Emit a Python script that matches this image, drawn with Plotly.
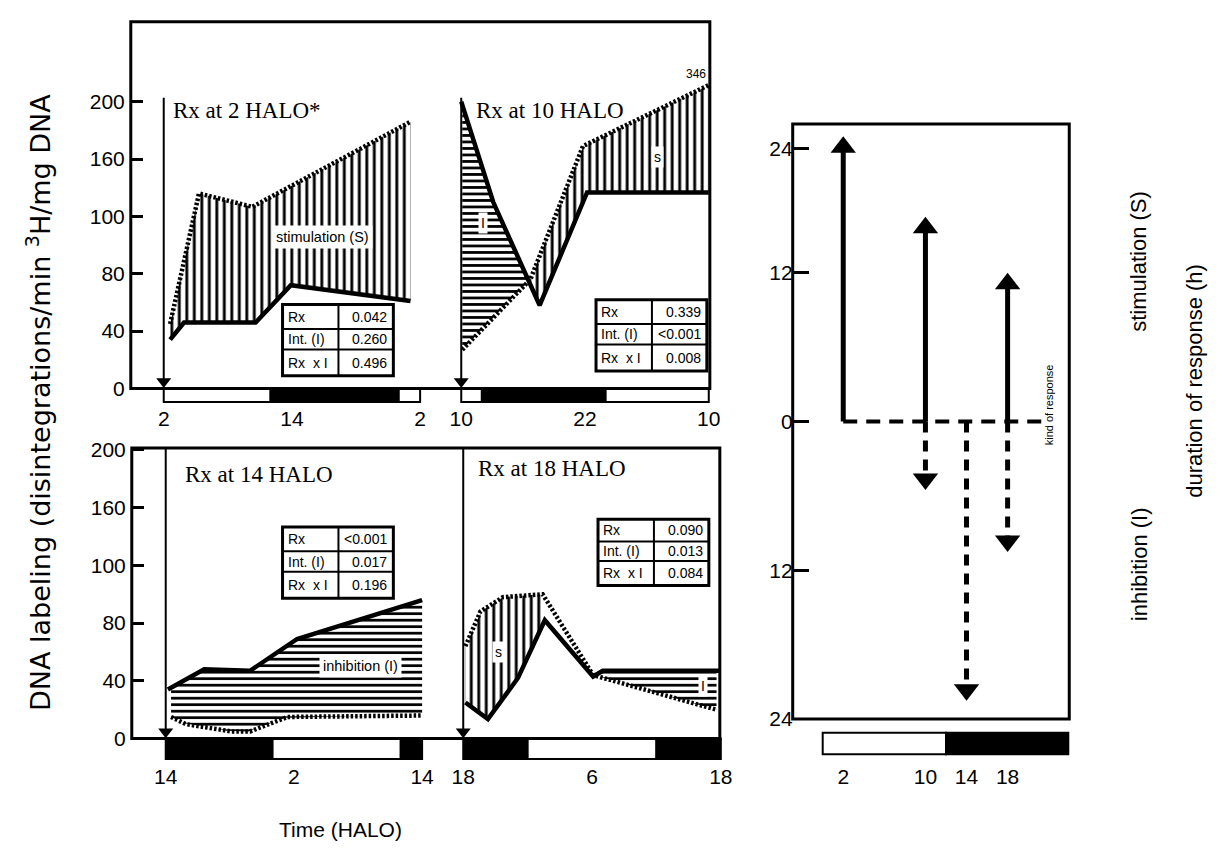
import numpy as np
import plotly.graph_objects as go

W, H = 1224, 853

# ---------------------------------------------------------------- data
# broken DNA-labeling scale: tick values sit at equal steps
dna_ticks = [0, 40, 80, 100, 160, 200]
dna_ticktext = ["0", "40", "80", "100", "160", "200"]

rx_times = [2, 10, 14, 18]
panel_titles = ["Rx at 2 HALO*", "Rx at 10 HALO", "Rx at 14 HALO", "Rx at 18 HALO"]

# Rx at 2 HALO  (solid = control, dotted = treated)
a_ctrl_t = [2.6, 3.9, 10.6, 13.9, 25.1]
a_ctrl_v = [34, 46, 46, 72, 61]
a_rx_t = [2.6, 5.3, 10.3, 25.1]
a_rx_v = [45, 124, 110, 186]
a_stats = ["0.042", "0.260", "0.496"]

# Rx at 10 HALO
b_ctrl_t = [10, 13.1, 17.6, 22.2, 34]
b_ctrl_v = [200, 115, 58, 125, 125]
b_rx_t = [10.1, 16.7, 21.8, 34]
b_rx_v = [27, 76, 169, 346]
b_stats = ["0.339", "<0.001", "0.008"]

# Rx at 14 HALO
c_ctrl_t = [14.2, 17.6, 21.9, 26.3, 38]
c_ctrl_v = [34, 48, 47, 69, 88]
c_rx_t = [14.5, 15.9, 20.1, 21.9, 25.4, 38]
c_rx_v = [15, 10, 5, 5, 15, 16]
c_stats = ["<0.001", "0.017", "0.196"]

# Rx at 18 HALO
d_ctrl_t = [18.2, 20.3, 23.1, 25.6, 30.1, 31.0, 41.9]
d_ctrl_v = [25, 13.5, 42, 81, 43, 47, 47]
d_rx_t = [18.2, 19.6, 21.7, 25.4, 30.1, 41.6]
d_rx_v = [64, 84, 89, 90, 44, 20]
d_stats = ["0.090", "0.013", "0.084"]

stat_labels = ["Rx", "Int. (I)", "Rx  x I"]

# summary: duration of response (h) per treatment time
stim_h = [23, 16.5, 0, 12]
inhib_h = [0, 5.5, 22.5, 10.5]
right_ticks_h = [24, 20, 16, 12, 8, 4, 0, -4, -8, -12, -16, -20, -24]
right_ticktext = ["24", "20", "16", "12", "8", "4", "- 0", "4", "8", "12", "16", "20", "24"]
left_ticks_h = [22, 12, 0, -12, -24]
left_ticktext = ["24", "12", "0", "12", "24"]

LIGHT, CYCLE = 12, 24   # light phase 0-12 HALO, dark 12-24


def dna_pos(v):
    v = np.asarray(v, float)
    pos = np.interp(v, dna_ticks, np.arange(len(dna_ticks)))
    # values above 200 are compressed (axis break)
    return np.where(v > 200, 5 + (v - 200) / 146 * 0.29, pos)


def X(px):
    return px / W


def Y(py):
    return 1 - py / H


fig = go.Figure()
BLACK = "black"
SANS = "Liberation Sans"
SERIF = "Liberation Serif"
TICKFONT = dict(size=21, family=SANS, color=BLACK)

# ---------------------------------------------------------------- axes
panels = [
    # xaxis, yaxis, t0, px0, px_per_h
    ("x", "y", 2, 163, 10.7),
    ("x2", "y", 10, 461, 10.33),
    ("x3", "y2", 14, 165, 10.7),
    ("x4", "y2", 18, 463, 10.75),
]
top_base, top_frame = 388, 12
bot_base, bot_frame = 747, 449
top_unit, bot_unit = 58.8, 59.2

layout = dict(
    width=W, height=H, margin=dict(l=0, r=0, t=0, b=0),
    paper_bgcolor="white", plot_bgcolor="rgba(0,0,0,0)",
    showlegend=False,
    font=dict(family=SANS, color=BLACK, size=20),
)

tick_sets = [([2, 14, 26], ["2", "14", "2"]),
             ([10, 22, 34], ["10", "22", "10"]),
             ([14, 26, 38], ["14", "2", "14"]),
             ([18, 30, 42], ["18", "6", "18"])]

for i, (xa, ya, t0, px0, k) in enumerate(panels):
    name = "xaxis" if xa == "x" else "xaxis" + xa[1:]
    label_y = 404 if ya == "y" else 771
    layout[name] = dict(
        domain=[X(px0 - k), X(px0 + 25 * k)], range=[t0 - 1, t0 + 25],
        anchor="free", position=Y(label_y),
        tickvals=tick_sets[i][0], ticktext=tick_sets[i][1],
        ticks="", showline=False, showgrid=False, zeroline=False,
        tickfont=TICKFONT,
    )

for name, base, frame, unit, xpos in [("yaxis", top_base, top_frame, top_unit, 130),
                                      ("yaxis2", bot_base, bot_frame, bot_unit, 131)]:
    layout[name] = dict(
        domain=[Y(base), Y(frame)], range=[0, (base - frame) / unit],
        anchor="free", position=X(xpos), tickvals=list(range(6)), ticktext=dna_ticktext,
        ticks="inside", ticklen=11, tickwidth=2.5, tickcolor=BLACK,
        showline=False, showgrid=False, zeroline=False, ticklabelstandoff=6,
        tickfont=TICKFONT,
    )

# summary panel
R_L, R_R, R_T, R_B = 793, 1070, 117, 727
layout["xaxis5"] = dict(
    domain=[X(R_L), X(R_R)], range=[-2.92, 24], anchor="free", position=Y(771),
    tickvals=rx_times, ticktext=[str(t) for t in rx_times],
    ticks="", showline=False, showgrid=False, zeroline=False,
    tickfont=TICKFONT,
)
layout["yaxis3"] = dict(
    domain=[Y(R_B), Y(R_T)], range=[-24, 24], anchor="free", position=X(R_L),
    tickvals=left_ticks_h, ticktext=left_ticktext,
    ticks="inside", ticklen=15, tickwidth=2.5, tickcolor=BLACK,
    showline=False, showgrid=False, zeroline=False,
    tickfont=TICKFONT,
)
layout["yaxis4"] = dict(
    domain=[Y(R_B), Y(R_T)], range=[-24, 24], anchor="free", position=X(R_R),
    overlaying="y3", side="right",
    tickvals=right_ticks_h, ticktext=right_ticktext,
    ticks="inside", ticklen=15, tickwidth=2.5, tickcolor=BLACK,
    showline=False, showgrid=False, zeroline=False,
    tickfont=TICKFONT,
)
fig.update_layout(**layout)

# ---------------------------------------------------------------- hatching
def band(t_up, v_up, t_lo, v_lo, t0, t1, n=400):
    g = np.linspace(t0, t1, n)
    up = np.interp(g, t_up, dna_pos(v_up))
    lo = np.interp(g, t_lo, dna_pos(v_lo))
    m = up >= lo
    g, up, lo = g[m], up[m], lo[m]
    return np.r_[g, g[::-1], g[:1]], np.r_[up, lo[::-1], up[:1]]


def hatch(xa, ya, xs, ys, shape):
    size, sol = (7.5, 0.38) if shape == "|" else (6.5, 0.42)
    fig.add_trace(go.Scatter(
        x=xs, y=ys, xaxis=xa, yaxis=ya, mode="lines", fill="toself",
        line=dict(width=0, color="rgba(0,0,0,0)"),
        fillcolor="white",
        fillpattern=dict(shape=shape, size=size, solidity=sol,
                         fgcolor=BLACK, bgcolor="white", fillmode="replace"),
        hoverinfo="skip"))


A = (a_ctrl_t, a_ctrl_v, a_rx_t, a_rx_v)
B = (b_ctrl_t, b_ctrl_v, b_rx_t, b_rx_v)
C = (c_ctrl_t, c_ctrl_v, c_rx_t, c_rx_v)
D = (d_ctrl_t, d_ctrl_v, d_rx_t, d_rx_v)

hatch("x", "y", *band(a_rx_t, a_rx_v, a_ctrl_t, a_ctrl_v, 2.6, 25.1), "|")
hatch("x2", "y", *band(b_ctrl_t, b_ctrl_v, b_rx_t, b_rx_v, 10.1, 18.5), "-")
hatch("x2", "y", *band(b_rx_t, b_rx_v, b_ctrl_t, b_ctrl_v, 16.0, 34), "|")
hatch("x3", "y2", *band(c_ctrl_t, c_ctrl_v, c_rx_t, c_rx_v, 14.5, 38), "-")
hatch("x4", "y2", *band(d_rx_t, d_rx_v, d_ctrl_t, d_ctrl_v, 18.2, 25.5), "|")
hatch("x4", "y2", *band(d_ctrl_t, d_ctrl_v, d_rx_t, d_rx_v, 30.6, 41.6), "-")

# ---------------------------------------------------------------- curves
for (xa, ya, *_), (ct, cv, rt, rv) in zip(panels, [A, B, C, D]):
    fig.add_trace(go.Scatter(x=ct, y=dna_pos(cv), xaxis=xa, yaxis=ya, mode="lines",
                             line=dict(color=BLACK, width=4.5), hoverinfo="skip"))
    fig.add_trace(go.Scatter(x=rt, y=dna_pos(rv), xaxis=xa, yaxis=ya, mode="lines",
                             line=dict(color=BLACK, width=4.5, dash="2.5px,2px"),
                             hoverinfo="skip"))

# treatment arrows inside each panel
for (xa, ya, *_), t in zip(panels, rx_times):
    top = 5.07 if ya == "y" else (bot_base - bot_frame) / bot_unit
    fig.add_trace(go.Scatter(x=[t, t], y=[top, 0.1], xaxis=xa, yaxis=ya, mode="lines",
                             line=dict(color=BLACK, width=2), hoverinfo="skip"))
    fig.add_trace(go.Scatter(x=[t], y=[0.12], xaxis=xa, yaxis=ya, mode="markers",
                             marker=dict(symbol="triangle-down", size=13, color=BLACK),
                             cliponaxis=False, hoverinfo="skip"))

# ---------------------------------------------------------------- light/dark bars
def phase_segments(t0, t1):
    edges = [t0] + [e for e in np.arange(0, t1 + CYCLE, LIGHT) if t0 < e < t1] + [t1]
    out = []
    for a, b in zip(edges[:-1], edges[1:]):
        out.append((a, b, ((a + b) / 2) % CYCLE >= LIGHT))
    return out


def add_bar(xa, t0, t1, y0, y1):
    for a, b, dark in phase_segments(t0, t1):
        fig.add_shape(type="rect", xref=xa, yref="paper", x0=a, x1=b, y0=Y(y1), y1=Y(y0),
                      fillcolor=BLACK if dark else "white",
                      line=dict(color=BLACK, width=2))


for (xa, ya, t0, *_), in zip(panels):
    if ya == "y":
        add_bar(xa, t0, t0 + 24, 388, 402)
    else:
        add_bar(xa, t0, t0 + 24, 747, 768)
add_bar("x5", 0, 24, 741, 763)

# ---------------------------------------------------------------- summary arrows
HEAD = 0.87  # half head height in hours
zero_x = [min(rx_times), 22]
fig.add_trace(go.Scatter(x=zero_x, y=[0, 0], xaxis="x5", yaxis="y3", mode="lines",
                         line=dict(color=BLACK, width=4, dash="14px,9px"), hoverinfo="skip"))
for t, s, inh in zip(rx_times, stim_h, inhib_h):
    if s > 0:
        fig.add_trace(go.Scatter(x=[t, t], y=[0, s - HEAD], xaxis="x5", yaxis="y3",
                                 mode="lines", line=dict(color=BLACK, width=5),
                                 hoverinfo="skip"))
        fig.add_trace(go.Scatter(x=[t], y=[s - HEAD], xaxis="x5", yaxis="y3", mode="markers",
                                 marker=dict(symbol="triangle-up", size=22, color=BLACK),
                                 cliponaxis=False, hoverinfo="skip"))
    if inh > 0:
        fig.add_trace(go.Scatter(x=[t, t], y=[0, -(inh - HEAD)], xaxis="x5", yaxis="y3",
                                 mode="lines", line=dict(color=BLACK, width=5, dash="11px,8px"),
                                 hoverinfo="skip"))
        fig.add_trace(go.Scatter(x=[t], y=[-(inh - HEAD)], xaxis="x5", yaxis="y3",
                                 mode="markers",
                                 marker=dict(symbol="triangle-down", size=22, color=BLACK),
                                 cliponaxis=False, hoverinfo="skip"))

# ---------------------------------------------------------------- frames
for x0, x1, y0, y1 in [(130, 710, 12, 388), (131, 720, 449, 747), (R_L, R_R, R_T, R_B)]:
    fig.add_shape(type="rect", xref="paper", yref="paper", x0=X(x0), x1=X(x1),
                  y0=Y(y1), y1=Y(y0), line=dict(color=BLACK, width=3))

# ---------------------------------------------------------------- stats tables
def esc(s):
    return s.replace("<", "&lt;")


TABLE_FONT = dict(size=14, family=SANS, color=BLACK)


def add_table(x0, y0, vals, w=111, rows=(0, 25, 46, 73), split=56):
    fig.add_shape(type="rect", xref="paper", yref="paper", x0=X(x0), x1=X(x0 + w),
                  y0=Y(y0 + rows[-1]), y1=Y(y0), fillcolor="white",
                  line=dict(color=BLACK, width=3))
    for r in rows[1:-1]:
        fig.add_shape(type="line", xref="paper", yref="paper", x0=X(x0), x1=X(x0 + w),
                      y0=Y(y0 + r), y1=Y(y0 + r), line=dict(color=BLACK, width=2))
    fig.add_shape(type="line", xref="paper", yref="paper", x0=X(x0 + split), x1=X(x0 + split),
                  y0=Y(y0 + rows[-1]), y1=Y(y0), line=dict(color=BLACK, width=2))
    for i, (lab, val) in enumerate(zip(stat_labels, vals)):
        yc = y0 + (rows[i] + rows[i + 1]) / 2
        fig.add_annotation(x=X(x0 + 3), y=Y(yc), xref="paper", yref="paper", text=lab,
                           xanchor="left", yanchor="middle", showarrow=False,
                           font=TABLE_FONT)
        fig.add_annotation(x=X(x0 + w - 4), y=Y(yc), xref="paper", yref="paper",
                           text=esc(val), xanchor="right", yanchor="middle", showarrow=False,
                           font=TABLE_FONT)


add_table(282, 302, a_stats)
add_table(596, 297, b_stats)
add_table(282, 530, c_stats)
add_table(598, 522, d_stats, rows=(0, 23, 43, 68))

# ---------------------------------------------------------------- texts
def note(px, py, text, size=20, family=SANS, anchor="left", angle=0, bg=None, pad=1):
    fig.add_annotation(x=X(px), y=Y(py), xref="paper", yref="paper", text=text,
                       xanchor=anchor, yanchor="middle", showarrow=False, textangle=angle,
                       bgcolor=bg, borderpad=pad,
                       font=dict(size=size, family=family, color=BLACK))


for (px, py), title in zip([(170, 103), (474, 103), (182, 476), (476, 470)], panel_titles):
    note(px, py, title, size=23, family=SERIF)

note(322, 233, "stimulation (S)", size=14.5, anchor="center", bg="white", pad=3)
note(360, 673, "inhibition (I)", size=14.5, anchor="center", bg="white", pad=3)
note(658, 151, "s", size=14, anchor="center", bg="white", pad=2)
note(483, 218, "I", size=14, anchor="center", bg="white", pad=2)
note(498, 658, "s", size=14, anchor="center", bg="white", pad=2)
note(703, 693, "I", size=14, anchor="center", bg="white", pad=2)
note(696, 66, str(max(b_rx_v)), size=12, anchor="center")

note(37, 402, "DNA labeling (disintegrations/min <sup>3</sup>H/mg DNA", size=27,
     family="DejaVu Sans", anchor="center", angle=-90)
note(340, 840, "Time (HALO)", size=21, anchor="center")
note(1140, 258, "stimulation (S)", size=22, anchor="center", angle=-90)
note(1140, 568, "inhibition (I)", size=22, anchor="center", angle=-90)
note(1196, 380, "duration of response (h)", size=22, anchor="center", angle=-90)
note(1050, 405, "kind of response", size=11, anchor="center", angle=-90)

fig.write_html("out.html")
